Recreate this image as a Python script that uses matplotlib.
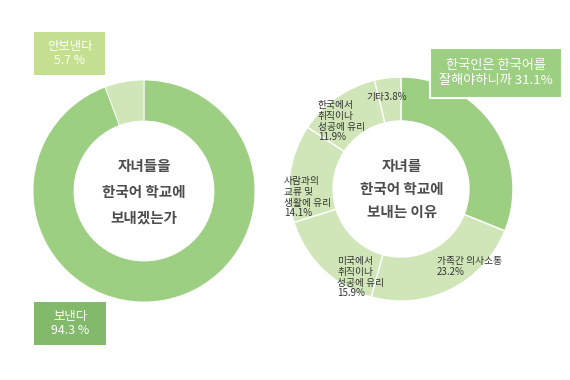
import matplotlib
matplotlib.use("Agg")
import matplotlib.pyplot as plt
from matplotlib.patches import Rectangle

plt.rcParams['font.family'] = ['Noto Sans CJK KR', 'DejaVu Sans']

# Data
left_labels = ["보낸다", "안보낸다"]
left_values = [94.3, 5.7]
left_title = "자녀들을\n한국어 학교에\n보내겠는가"

right_labels = ["한국인은 한국어를\n잘해야하니까", "가족간 의사소통", "미국에서\n취직이나\n성공에 유리",
                "사람과의\n교류 및\n생활에 유리", "한국에서\n취직이나\n성공에 유리", "기타"]
right_values = [31.1, 23.2, 15.9, 14.1, 11.9, 3.8]
right_title = "자녀를\n한국어 학교에\n보내는 이유"

GREEN = "#9dcf83"
LIGHT = "#d0e6b9"
W, H = 570, 380

fig = plt.figure(figsize=(W / 100, H / 100), dpi=100)
ax = fig.add_axes([0, 0, 1, 1])

def Y(py):
    return H - py

# Left donut
ax.pie(left_values, colors=[GREEN, LIGHT], startangle=90, counterclock=False,
       center=(144, Y(191)), radius=111, frame=True,
       wedgeprops=dict(width=41, edgecolor='white', linewidth=0.6))
# Right donut
ax.pie(right_values, colors=[GREEN] + [LIGHT] * 5, startangle=90, counterclock=False,
       center=(401, Y(189)), radius=112, frame=True,
       wedgeprops=dict(width=44, edgecolor='white', linewidth=1.0))
ax.set_xlim(0, W)
ax.set_ylim(0, H)
ax.set_aspect('equal')
ax.axis('off')

# Center titles
ax.text(144, Y(192), left_title, ha='center', va='center', fontsize=10.5,
        color='#4d4d4d', linespacing=1.75, fontweight='bold')
ax.text(402, Y(189), right_title, ha='center', va='center', fontsize=10.5,
        color='#4d4d4d', linespacing=1.55, fontweight='bold')

# Left boxes
ax.add_patch(Rectangle((34, Y(75)), 71, 43, facecolor="#c4df8f", edgecolor='none'))
ax.text(69.5, Y(53.5), f"{left_labels[1]}\n{left_values[1]} %", ha='center', va='center',
        fontsize=8.9, color='white', linespacing=1.15)
ax.add_patch(Rectangle((34, Y(345)), 72, 43, facecolor="#82b96a", edgecolor='none'))
ax.text(70, Y(323.5), f"{left_labels[0]}\n{left_values[0]} %", ha='center', va='center',
        fontsize=8.9, color='white', linespacing=1.15)

# Right top box
ax.add_patch(Rectangle((430, Y(98)), 132, 50, facecolor=GREEN, edgecolor='white', linewidth=1.5))
ax.text(496, Y(73), f"{right_labels[0].splitlines()[0]}\n{right_labels[0].splitlines()[1]} {right_values[0]}%",
        ha='center', va='center', fontsize=9.5, color='white', linespacing=1.2)

# Right labels inside ring
lab_kw = dict(fontsize=7.0, color='#333333', linespacing=1.1, ha='left', va='top')
ax.text(437, Y(256), f"{right_labels[1]}\n{right_values[1]}%", **lab_kw)
ax.text(337, Y(256), f"{right_labels[2]}\n{right_values[2]}%", **lab_kw)
ax.text(284, Y(176), f"{right_labels[3]}\n{right_values[3]}%", **lab_kw)
ax.text(318, Y(100), f"{right_labels[4]}\n{right_values[4]}%", **lab_kw)
ax.text(366, Y(97), f"{right_labels[5]}{right_values[5]}%", fontsize=7.0, color='#333333',
        ha='left', va='center')

fig.savefig("out.png", dpi=100, facecolor='white')
